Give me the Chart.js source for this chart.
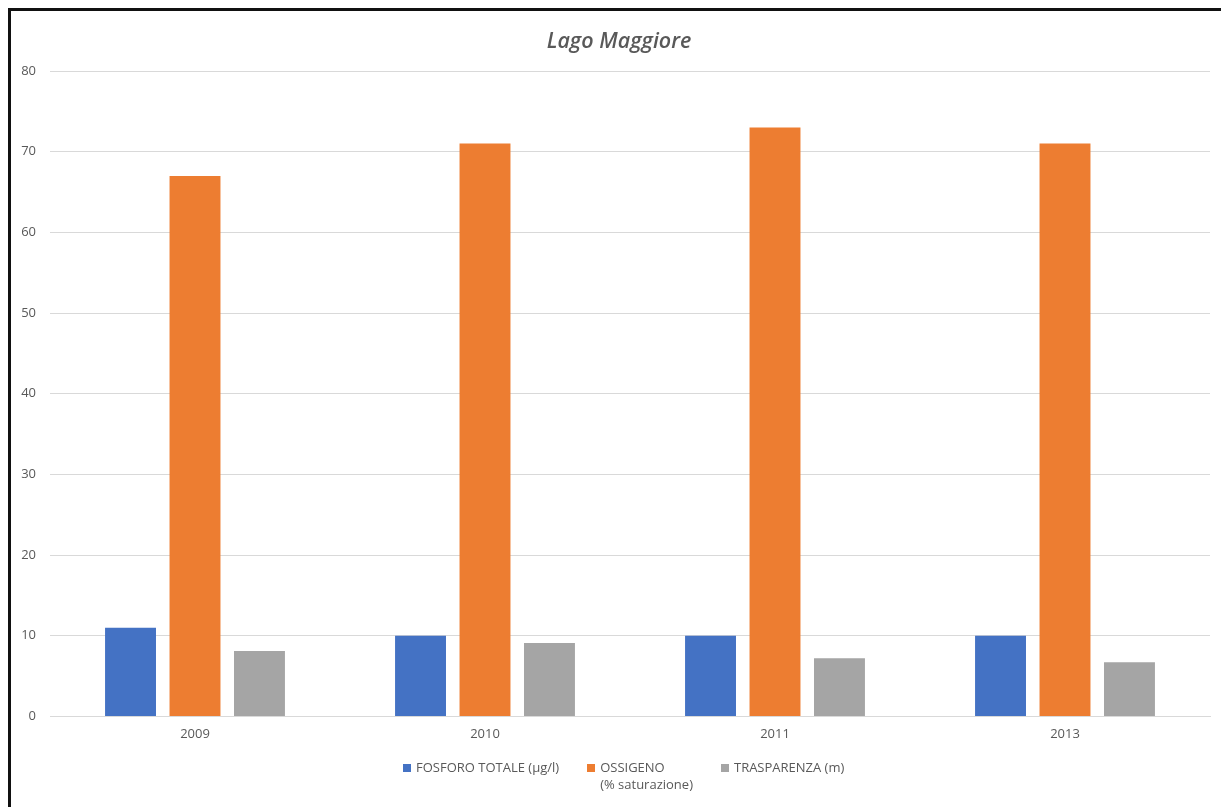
<!DOCTYPE html>
<html>
<head>
<meta charset="utf-8">
<script src="https://cdn.jsdelivr.net/npm/chart.js@4/dist/chart.umd.min.js"></script>
<style>
  html, body { margin: 0; padding: 0; background: #ffffff; }
  #wrap { position: relative; width: 1221px; height: 807px; overflow: hidden; background: #ffffff; }
  #frame { position: absolute; left: 8px; top: 8px; width: 1300px; height: 900px;
           border-left: 3px solid #111; border-top: 3px solid #111; box-sizing: border-box; pointer-events: none; }
  #chart { position: absolute; left: 0; top: 0; }
  #title { position: absolute; left: 519px; width: 200px; top: 26px; text-align: center;
           font-family: "Open Sans", sans-serif; font-style: italic; font-weight: 600;
           font-size: 21.5px; line-height: 28px; color: #595959; }
  #legend { position: absolute; left: 403px; top: 759px; display: flex; align-items: flex-start;
            font-family: "Open Sans", sans-serif; font-size: 13px; color: #595959; line-height: 17px; }
  #legend .item { display: flex; align-items: flex-start; margin-right: 28px; }
  #legend .sw { width: 8px; height: 8px; margin-top: 4.5px; margin-right: 5px; flex: none; }
</style>
</head>
<body>
<div id="wrap">
  <canvas id="chart" width="1221" height="807"></canvas>
  <div id="frame"></div>
  <div id="title"></div>
  <div id="legend"></div>
</div>
<script>
// Lake survey values per year
const chartTitle = "Lago Maggiore";
const years = ["2009", "2010", "2011", "2013"];
const fosforo = [11, 10, 10, 10];          // µg/l
const ossigeno = [67, 71, 73, 71];         // % saturation
const trasparenza = [8.1, 9.1, 7.2, 6.7];  // m
const yTicks = [0, 10, 20, 30, 40, 50, 60, 70, 80];

const seriesNames = ["FOSFORO TOTALE (µg/l)", ["OSSIGENO", "(% saturazione)"], "TRASPARENZA (m)"];
const seriesColors = ["#4472C4", "#ED7D31", "#A5A5A5"];
const seriesValues = [fosforo, ossigeno, trasparenza];

const textColor = "#595959";
const gridColor = "#d9d9d9";
const tickFont = { family: "'Open Sans', sans-serif", size: 13 };

const datasets = seriesValues.map((vals, i) => ({
  label: Array.isArray(seriesNames[i]) ? seriesNames[i].join(" ") : seriesNames[i],
  data: vals,
  backgroundColor: seriesColors[i],
  borderWidth: 0,
  categoryPercentage: 0.667,
  barPercentage: 0.79
}));

new Chart(document.getElementById("chart"), {
  type: "bar",
  data: { labels: years, datasets },
  options: {
    responsive: false,
    animation: false,
    devicePixelRatio: 1,
    layout: { padding: { left: 0, right: 11, top: 71, bottom: 55 } },
    plugins: {
      legend: { display: false },
      tooltip: { enabled: false },
      title: { display: false }
    },
    scales: {
      x: {
        grid: { display: false, drawTicks: false },
        border: { display: true, color: gridColor, width: 1 },
        ticks: { color: textColor, font: tickFont, padding: 10 }
      },
      y: {
        min: 0,
        max: 80,
        afterBuildTicks: (scale) => { scale.ticks = yTicks.map(v => ({ value: v })); },
        afterFit: (scale) => { scale.width = 50; },
        grid: { color: gridColor, lineWidth: 1, drawTicks: false },
        border: { display: false },
        ticks: { color: textColor, font: tickFont, padding: 14 }
      }
    }
  }
});

document.getElementById("title").textContent = chartTitle;

// Legend built from the same series names and colours
const legendEl = document.getElementById("legend");
seriesNames.forEach((name, i) => {
  const item = document.createElement("div");
  item.className = "item";
  const sw = document.createElement("span");
  sw.className = "sw";
  sw.style.background = seriesColors[i];
  const txt = document.createElement("span");
  const lines = Array.isArray(name) ? name : [name];
  lines.forEach((ln, j) => {
    if (j) txt.appendChild(document.createElement("br"));
    txt.appendChild(document.createTextNode(ln));
  });
  item.appendChild(sw);
  item.appendChild(txt);
  legendEl.appendChild(item);
});
</script>
</body>
</html>
